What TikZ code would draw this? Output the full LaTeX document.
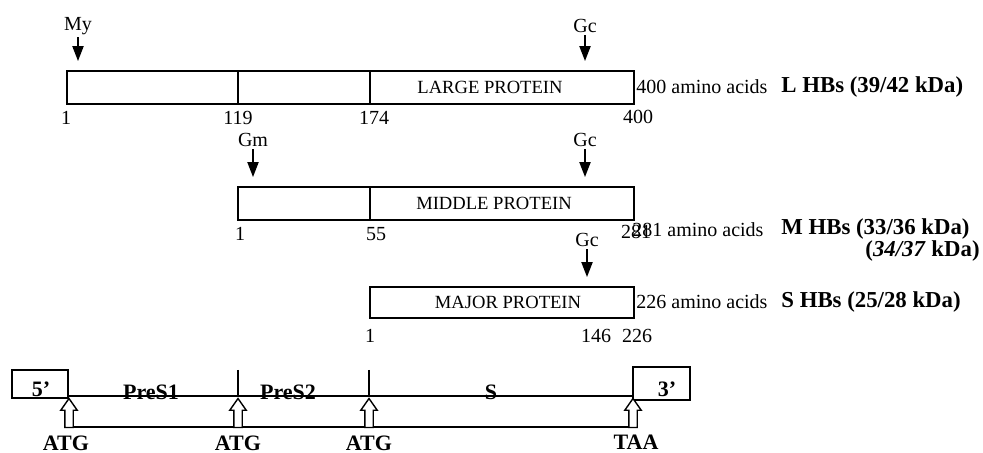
\documentclass[tikz,border=0pt]{standalone}
\usepackage{fontspec}
\setmainfont{Liberation Serif}
\usetikzlibrary{arrows.meta,fit,shapes.arrows}

\begin{document}
\begin{tikzpicture}[x=0.5pt,y=-0.5pt,font=\fontsize{10}{12}\selectfont,inner sep=1pt,
  pbox/.style={draw,line width=0.9pt,inner sep=0pt},
  pname/.style={font=\fontsize{9.3}{10}\selectfont},
  site/.style={-{Triangle[width=5.5pt,length=7.5pt]},line width=1pt,shorten >=4.5pt},
  start/.style={single arrow,draw,line width=0.7pt,fill=white,shape border rotate=90,
                minimum height=14.5pt,minimum width=0pt,inner sep=1.75pt,
                single arrow head extend=2pt,single arrow tip angle=70},
  aa/.style={anchor=west},
  hb/.style={anchor=west,font=\fontsize{11.4}{12}\selectfont\bfseries},
  gene/.style={font=\fontsize{11}{12}\selectfont\bfseries}]
  \useasboundingbox (0,0) rectangle (983,453);
  % large protein
  \node[pbox,fit={(67,71) (634,104)}] (lbox) {};
  \draw[line width=0.9pt] (238,71) -- (238,104) (370,71) -- (370,104);
  \node[pname] (lname) at (490,87) {LARGE PROTEIN};
  \node (my)  at (78,26)  {My};
  \node (gc1) at (585,26) {Gc};
  \draw[site] (my.south) -- (my.south |- lbox.north);
  \draw[site] (gc1.south) -- (gc1.south |- lbox.north);
  \node (l1)   at (66,118)  {1};
  \node (l119) at (238,118) {119};
  \node (l174) at (374,118) {174};
  \node (l400) at (638,117) {400};
  \node[aa] (aal) at (634,87) {400 amino acids};
  \node[hb] (hbl) at (779,87) {L HBs (39/42 kDa)};
  % middle protein
  \node[pbox,fit={(238,187) (634,220)}] (mbox) {};
  \draw[line width=0.9pt] (370,187) -- (370,220);
  \node[pname] (mname) at (494,203) {MIDDLE PROTEIN};
  \node (gm)  at (253,140) {Gm};
  \node (gc2) at (585,140) {Gc};
  \draw[site] (gm.south) -- (gm.south |- mbox.north);
  \draw[site] (gc2.south) -- (gc2.south |- mbox.north);
  \node (m1)   at (240,234) {1};
  \node (m55)  at (376,234) {55};
  \node (m281) at (636,232) {281};
  \node[aa] (aam) at (630,230) {281 amino acids};
  \node[hb] (hbm) at (779,229) {M HBs (33/36 kDa)};
  \node[hb,anchor=east] (hbm2) at (982,251) {(\textit{34/37} kDa)};
  % major protein
  \node[pbox,fit={(370,287) (634,318)}] (sbox) {};
  \node[pname] (sname) at (508,302) {MAJOR PROTEIN};
  \node (gc3) at (587,240) {Gc};
  \draw[site] (gc3.south) -- (gc3.south |- sbox.north);
  \node (s1)   at (370,336) {1};
  \node (s146) at (596,336) {146};
  \node (s226) at (637,336) {226};
  \node[aa] (aas) at (634,302) {226 amino acids};
  \node[hb] (hbs) at (779,302) {S HBs (25/28 kDa)};
  % gene
  \node[pbox,fit={(12,370) (68,398)}] (five) {};
  \node[pbox,fit={(633,367) (690,400)}] (three) {};
  \node[gene] (t5) at (41,389) {5'};
  \node[gene] (t3) at (667,389) {3'};
  \node[gene] (pres1) at (151,392) {PreS1};
  \node[gene] (pres2) at (288,392) {PreS2};
  \node[gene] (sgene) at (491,392) {S};
  \draw[line width=0.9pt] (68,396) -- (633,396);
  \draw[line width=0.9pt] (238,370) -- (238,396) (369,370) -- (369,396);
  \draw[line width=0.9pt] (69,427) -- (633,427);
  \node[start] (a1) at (69,416)  {};
  \node[start] (a2) at (238,416) {};
  \node[start] (a3) at (369,416) {};
  \node[start] (a4) at (633,416) {};
  \node[gene] (atg1) at (66,443)  {ATG};
  \node[gene] (atg2) at (238,443) {ATG};
  \node[gene] (atg3) at (369,443) {ATG};
  \node[gene] (taa)  at (636,442) {TAA};
\end{tikzpicture}
\end{document}
